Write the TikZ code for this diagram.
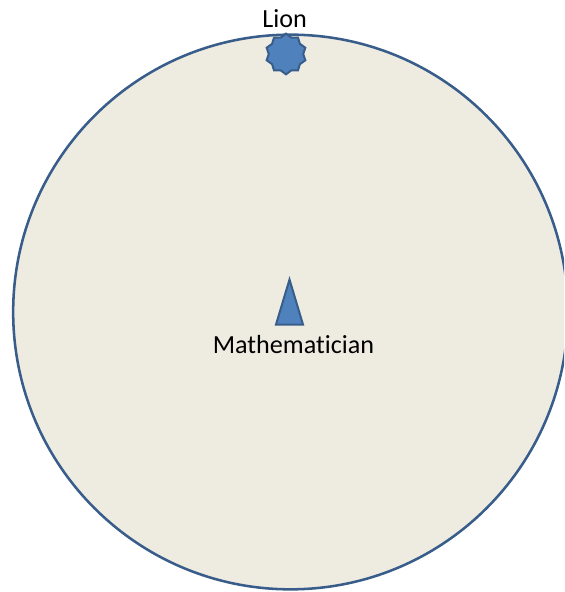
\documentclass[tikz,border=0pt]{standalone}
\usepackage{fontspec}
\setmainfont{Carlito}[Ligatures=NoCommon]
\usetikzlibrary{positioning, shapes.geometric}
\definecolor{arenafill}{RGB}{238,236,225}
\definecolor{arenaline}{RGB}{56,93,138}
\definecolor{figfill}{RGB}{79,129,189}
\tikzstyle{arena}=[draw=arenaline,fill=arenafill,circle,line width=1.9pt,inner sep=0pt,minimum size=416pt]
\tikzstyle{figure}=[draw=arenaline,fill=figfill,line width=1.5pt,inner sep=0pt]
\tikzstyle{every node}=[font=\fontsize{19.6}{22}\selectfont]

\begin{document}
\begin{tikzpicture}[x=0.75pt, y=-0.75pt]
            \useasboundingbox (0,0) rectangle (564,592);
            \clip (0,0) rectangle (564,592);
            \node[arena] (arena) at (290.5,312) {};
            \node[figure, star, star points=10, star point ratio=1.18, minimum size=30.5pt] (lion) at (286,54) {};
            \node[above=0pt of lion, xshift=-1pt] (lionlabel) {Lion};
            \node[figure, isosceles triangle, shape border rotate=90, isosceles triangle stretches, minimum width=20.25pt, minimum height=33.75pt] (math) at (289.5,314.5) {};
            \node[below=4pt of math, xshift=3pt] (mathlabel) {Mathematician};
        \end{tikzpicture}
\end{document}
